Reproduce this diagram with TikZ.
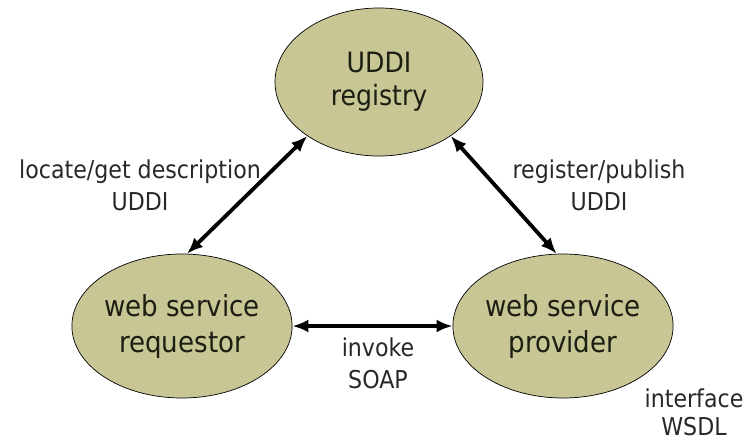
\documentclass[tikz,border=0pt]{standalone}
\usepackage{fontspec}
\setmainfont{DejaVu Sans Condensed}
\usetikzlibrary{arrows.meta,shapes.geometric}
\definecolor{khaki}{RGB}{201,198,150}
\definecolor{inktext}{RGB}{28,30,18}
\definecolor{lbltext}{RGB}{40,40,40}
\begin{document}
\begin{tikzpicture}[x=1pt,y=-1pt,
  blob/.style={ellipse,draw=black,line width=0.7pt,fill=khaki,inner sep=0pt,align=center,text=inktext},
  lbl/.style={align=center,inner sep=1pt,font=\fontsize{24.6}{32}\selectfont,text=lbltext},
  link/.style={line width=3.8pt,{Latex[length=16pt,width=13pt]}-{Latex[length=16pt,width=13pt]}}]
\useasboundingbox (0,0) rectangle (752,440);
\node[blob,minimum width=208pt,minimum height=148pt,font=\fontsize{28}{33}\selectfont] (reg) at (379,82) {UDDI\\registry};
\node[blob,minimum width=216pt,minimum height=144pt,font=\fontsize{29}{36}\selectfont] (req) at (182,326) {web service\\requestor};
\node[blob,minimum width=216pt,minimum height=144pt,font=\fontsize{29}{36}\selectfont] (prov) at (563,326) {web service\\provider};
\draw[link] (reg.-143) -- (req.86);
\draw[link] (reg.-37) -- (prov.95);
\draw[link] (req.east) -- (prov.west);
\node[lbl] (l1) at (140,185) {locate/get description\\UDDI};
\node[lbl] (l2) at (599,185) {register/publish\\UDDI};
\node[lbl] (l3) at (378,363) {invoke\\SOAP};
\node[lbl,font=\fontsize{24.6}{28}\selectfont] (l4) at (694,412) {interface\\WSDL};
\end{tikzpicture}
\end{document}
